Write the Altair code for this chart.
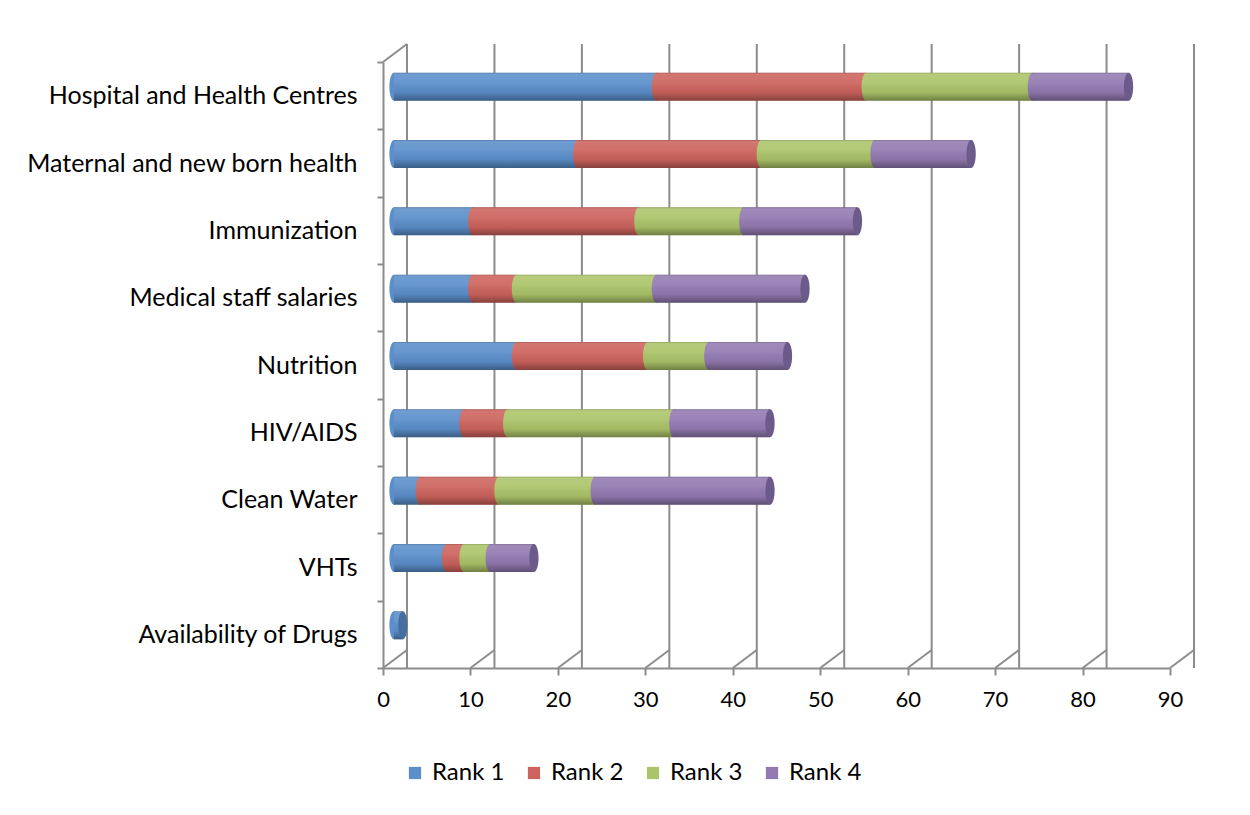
import altair as alt
import pandas as pd

categories = [
    "Hospital and Health Centres",
    "Maternal and new born health",
    "Immunization",
    "Medical staff salaries",
    "Nutrition",
    "HIV/AIDS",
    "Clean Water",
    "VHTs",
    "Availability of Drugs",
]
series = ["Rank 1", "Rank 2", "Rank 3", "Rank 4"]
rank1 = [30, 21, 9, 9, 14, 8, 3, 6, 1]
rank2 = [24, 21, 19, 5, 15, 5, 9, 2, 0]
rank3 = [19, 13, 12, 16, 7, 19, 11, 3, 0]
rank4 = [11, 11, 13, 17, 9, 11, 20, 5, 0]
x_ticks = list(range(0, 91, 10))

colors = ["#5b8fcb", "#cd635d", "#abc469", "#927ab1"]
cap_colors = ["#466f9f", "#9c4a46", "#7f9650", "#6b5a8a"]
GRID = "#8c8c8c"
FONT = "Lato"

rows = []
totals = []
for i, c in enumerate(categories):
    start = 0
    last = None
    for s, vals in zip(series, [rank1, rank2, rank3, rank4]):
        v = vals[i]
        if v > 0:
            rows.append(dict(category=c, rank=s, start=start, end=start + v))
            last = s
        start += v
    totals.append(dict(category=c, total=start, rank=last, zero=0))
seg = pd.DataFrame(rows)
tot = pd.DataFrame(totals)
ticks = pd.DataFrame({"v": x_ticks})
corner = pd.DataFrame({"v": [0]})

DX, DY = 11, -9          # depth offset of the bars (3D look)
BX, BY = 24, -18         # depth offset of the back wall
BAR = 28
ellipse = "M0,-1 A0.33,1 0 1,1 0,1 A0.33,1 0 1,1 0,-1 Z"

xscale = alt.Scale(domain=[0, 90], nice=False, zero=True)
yscale = alt.Scale(domain=categories, paddingInner=0, paddingOuter=0)

yaxis = alt.Axis(
    title=None, tickBand="extent", labelFontSize=25, labelFont=FONT,
    labelColor="black", labelPadding=20, tickSize=6, tickColor=GRID,
    tickWidth=2, domainColor=GRID, domainWidth=2, grid=False, labelLimit=400,
)
xaxis = alt.Axis(
    title=None, values=x_ticks, labelFontSize=22, labelFont=FONT,
    labelColor="black", tickSize=7, tickColor=GRID, tickWidth=2,
    domainColor=GRID, domainWidth=2, labelPadding=14, grid=False,
    labelFlush=False,
)

Y = alt.Y("category:N", sort=categories, scale=yscale, axis=yaxis)

grid = alt.Chart(ticks).mark_rule(
    color=GRID, strokeWidth=2, xOffset=BX, yOffset=BY, y2Offset=BY
).encode(x=alt.X("v:Q", scale=xscale, axis=xaxis))

floor = alt.Chart(ticks).mark_rule(
    color=GRID, strokeWidth=2, x2Offset=BX, y2Offset=BY
).encode(
    x=alt.X("v:Q", scale=xscale, axis=xaxis), x2="v:Q",
    y=alt.value("height"), y2=alt.value("height"),
)

top_corner = alt.Chart(corner).mark_rule(
    color=GRID, strokeWidth=2, x2Offset=BX, y2Offset=BY
).encode(
    x=alt.X("v:Q", scale=xscale, axis=xaxis), x2="v:Q",
    y=alt.value(0), y2=alt.value(0),
)

bars = alt.Chart(seg).mark_bar(
    size=BAR, xOffset=DX, x2Offset=DX, yOffset=DY, y2Offset=DY, strokeWidth=0
).encode(
    y=Y,
    x=alt.X("start:Q", scale=xscale, axis=xaxis),
    x2="end:Q",
    color=alt.Color(
        "rank:N",
        scale=alt.Scale(domain=series, range=colors),
        legend=alt.Legend(
            title=None, orient="none", legendX=20, legendY=699,
            direction="horizontal", symbolType="square", symbolSize=150,
            symbolStrokeWidth=0, labelFontSize=24, labelFont=FONT,
            labelColor="black", labelOffset=5, columnPadding=17,
        ),
    ),
)

starts = alt.Chart(seg).mark_point(
    shape=ellipse, size=BAR * BAR, filled=True, opacity=1, strokeWidth=0,
    xOffset=DX, yOffset=DY,
).encode(
    y=Y, x=alt.X("start:Q", scale=xscale, axis=xaxis),
    color=alt.Color("rank:N", scale=alt.Scale(domain=series, range=colors), legend=None),
)

shade = alt.Gradient(
    gradient="linear", x1=0, y1=0, x2=0, y2=1,
    stops=[
        alt.GradientStop(offset=0, color="rgba(40,40,40,0.25)"),
        alt.GradientStop(offset=0.06, color="rgba(255,255,255,0.12)"),
        alt.GradientStop(offset=0.35, color="rgba(255,255,255,0.08)"),
        alt.GradientStop(offset=0.7, color="rgba(0,0,0,0.05)"),
        alt.GradientStop(offset=1, color="rgba(0,0,0,0.35)"),
    ],
)
overlay = alt.Chart(tot).mark_bar(
    size=BAR, xOffset=DX, x2Offset=DX, yOffset=DY, y2Offset=DY,
    color=shade, strokeWidth=0,
).encode(y=Y, x=alt.X("zero:Q", scale=xscale, axis=xaxis), x2="total:Q")

caps = alt.Chart(tot).mark_point(
    shape=ellipse, size=BAR * BAR, filled=True, opacity=1, strokeWidth=0,
    xOffset=DX, yOffset=DY,
).encode(
    y=Y, x=alt.X("total:Q", scale=xscale, axis=xaxis),
    color=alt.Color("rank:N", scale=alt.Scale(domain=series, range=cap_colors), legend=None),
)

chart = alt.layer(grid, floor, top_corner, bars, starts, overlay, caps).resolve_scale(
    color="independent"
).properties(
    width=787, height=606,
    autosize=alt.AutoSizeParams(type="none"),
    padding={"left": 375, "top": 54, "right": 60, "bottom": 140},
    background="white",
).configure_view(stroke=None)

chart.save("out.html", embed_options={"renderer": "svg", "actions": False})
